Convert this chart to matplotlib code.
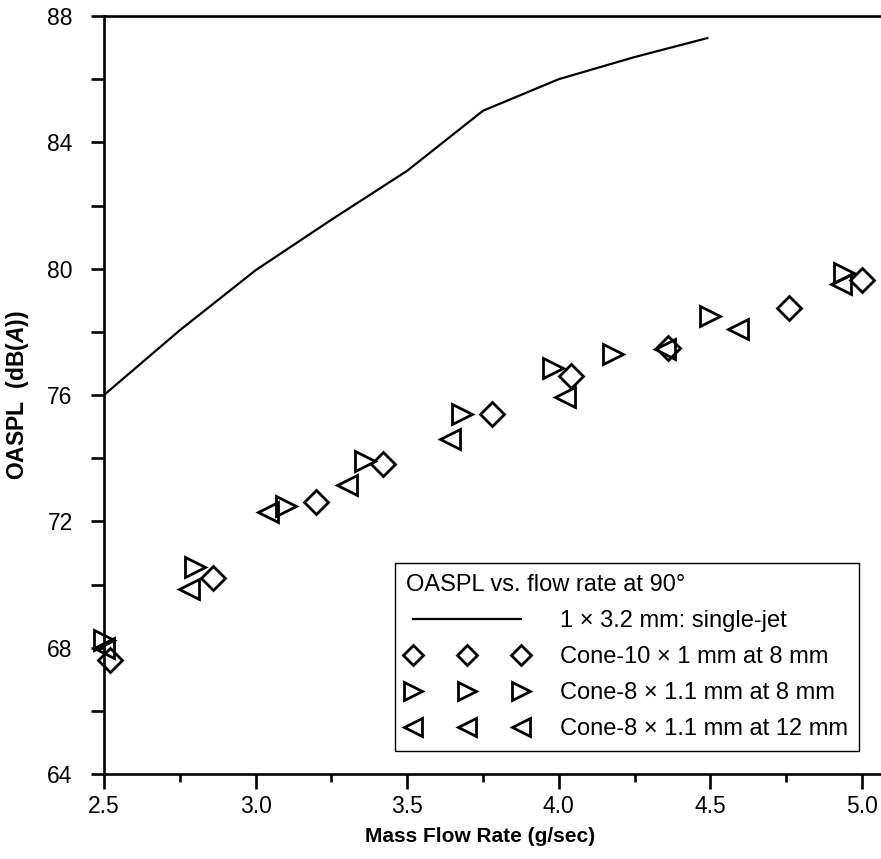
import numpy as np
import matplotlib
matplotlib.use("Agg")
from matplotlib import pyplot as plt
from matplotlib.lines import Line2D
from matplotlib.ticker import MultipleLocator

plt.rcParams['font.family'] = ['Liberation Sans', 'DejaVu Sans']
plt.rcParams['mathtext.fontset'] = 'custom'
plt.rcParams['mathtext.it'] = 'Liberation Sans:italic:bold'
plt.rcParams['mathtext.rm'] = 'Liberation Sans:bold'

# jet simple 1 x 3.2 mm
debit_jet = [2.5, 2.75, 3.0, 3.25, 3.5, 3.75, 4.0, 4.25, 4.49]
oaspl_jet = [76.0, 78.05, 79.95, 81.55, 83.1, 85.0, 86.0, 86.7, 87.3]

# cone 10 x 1 mm a 8 mm
debit_c10 = [2.52, 2.86, 3.20, 3.42, 3.78, 4.04, 4.36, 4.76, 5.00]
oaspl_c10 = [67.6, 70.2, 72.6, 73.8, 75.4, 76.6, 77.5, 78.75, 79.65]

# cone 8 x 1.1 mm a 8 mm
debit_c8_8 = [2.50, 2.80, 3.10, 3.36, 3.68, 3.98, 4.18, 4.50, 4.94]
oaspl_c8_8 = [68.25, 70.55, 72.5, 73.9, 75.4, 76.85, 77.3, 78.5, 79.85]

# cone 8 x 1.1 mm a 12 mm
debit_c8_12 = [2.50, 2.78, 3.04, 3.30, 3.64, 4.02, 4.35, 4.59, 4.93]
oaspl_c8_12 = [68.0, 69.85, 72.3, 73.15, 74.6, 75.95, 77.45, 78.1, 79.5]

labels = ["1 \u00d7 3.2 mm: single-jet",
          "Cone-10 \u00d7 1 mm at 8 mm",
          "Cone-8 \u00d7 1.1 mm at 8 mm",
          "Cone-8 \u00d7 1.1 mm at 12 mm"]

W, H = 881, 859
fig = plt.figure(figsize=(W / 100, H / 100), dpi=100)
ax = fig.add_axes([104 / W, 1 - 774 / H, (W - 104) / W, (774 - 16) / H])

ax.plot(debit_jet, oaspl_jet, color='k', lw=1.6, zorder=3)
style = dict(ls='none', mfc='none', mec='k', mew=2.0, clip_on=False, zorder=4)
ax.plot(debit_c10, oaspl_c10, marker='D', ms=12, **style)
ax.plot(debit_c8_8, oaspl_c8_8, marker='>', ms=15, **style)
ax.plot(debit_c8_12, oaspl_c8_12, marker='<', ms=15, **style)

ax.set_xlim(2.5, 2.5 + (W - 104) / 303.2)
ax.set_ylim(64, 88)
ax.xaxis.set_major_locator(MultipleLocator(0.5))
ax.xaxis.set_minor_locator(MultipleLocator(0.25))
ax.yaxis.set_major_locator(MultipleLocator(4))
ax.yaxis.set_minor_locator(MultipleLocator(2))
ax.xaxis.set_major_formatter(matplotlib.ticker.FormatStrFormatter('%.1f'))

for s in ['left', 'bottom', 'top']:
    ax.spines[s].set_linewidth(1.9)
ax.spines['right'].set_visible(False)

ax.tick_params(axis='y', which='both', direction='out', length=9.5, width=1.9,
               labelsize=16.5, pad=13)
ax.tick_params(axis='x', which='major', direction='out', length=11, width=1.9,
               labelsize=16.5, pad=4)
ax.tick_params(axis='x', which='minor', direction='out', length=6, width=1.9)

fig.text(480 / W, 1 - 836 / H, "Mass Flow Rate (g/sec)", fontsize=15,
         fontweight='bold', ha='center', va='center')
fig.text(18 / W, 1 - 395 / H, "OASPL  (dB($\\mathit{A}$))", fontsize=16.5,
         fontweight='bold', ha='center', va='center', rotation=90)

handles = [Line2D([], [], color='k', lw=1.6),
           Line2D([], [], ls='none', marker='D', ms=12, mfc='none', mec='k', mew=2.0),
           Line2D([], [], ls='none', marker='>', ms=15, mfc='none', mec='k', mew=2.0),
           Line2D([], [], ls='none', marker='<', ms=15, mfc='none', mec='k', mew=2.0)]
leg = ax.legend(handles, labels, title="OASPL vs. flow rate at 90\u00b0",
                numpoints=3, markerscale=0.85, fontsize=17.0, title_fontsize=17.0,
                handlelength=5.2, handletextpad=1.35, labelspacing=0.6,
                borderpad=0.45, alignment='left', fancybox=False, framealpha=1,
                edgecolor='k', loc='upper left',
                bbox_to_anchor=(395 / W, 1 - 563 / H), bbox_transform=fig.transFigure,
                borderaxespad=0)
leg.get_frame().set_linewidth(1.0)

fig.savefig("out.png", dpi=100)
